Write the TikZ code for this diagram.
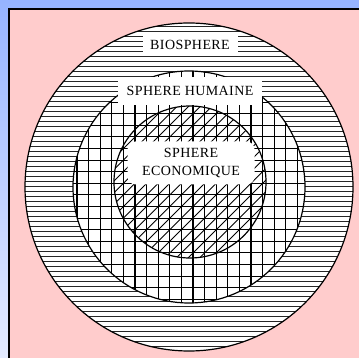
\documentclass[tikz,border=0pt]{standalone}
\usepackage{fontspec}
\setmainfont{Liberation Serif}
\newfontfamily\lblfont[LetterSpace=3]{Liberation Serif}
\usepackage{tikz}
\definecolor{rose}{RGB}{255,204,204}
\definecolor{bleuhaut}{RGB}{150,180,255}
\definecolor{bleubas}{RGB}{228,235,255}

\begin{document}
\begin{tikzpicture}[x=1pt,y=-1pt,hatch/.style={black!85,line width=0.9pt},grille/.style={black,line width=1.1pt},rond/.style={black,line width=1.2pt},etiq/.style={fill=white,inner sep=0pt,font=\lblfont\fontsize{14}{17}\selectfont}]
\useasboundingbox (0,0) rectangle (359,358);
\shade[top color=bleuhaut,bottom color=bleubas] (0,0) rectangle (359,358);
\fill[rose] (9,9) rectangle (359,358);
\draw[line width=2.5pt] (9,359) -- (9,9) -- (360,9);
% anneau exterieur : traits horizontaux
\begin{scope}[even odd rule]
\clip (189,187) circle (164pt) (189,187) circle (116pt);
\fill[white] (0,0) rectangle (359,358);
\foreach \y in {21,26,...,356} \draw[hatch] (20,\y) -- (360,\y);
\end{scope}
% sphere humaine : quadrillage
\begin{scope}
\clip (189,187) circle (116pt);
\fill[white] (0,0) rectangle (359,358);
\foreach \i in {-11,...,11} {
  \draw[grille] (181.4+11.6*\i,60) -- (181.4+11.6*\i,310);
  \draw[grille] (60,183.3+11.6*\i) -- (320,183.3+11.6*\i);
}
\end{scope}
% sphere economique : diagonales en plus
\begin{scope}
\clip (190,182) circle (76pt);
\foreach \k in {-10,...,10} \draw[grille,line width=0.9pt] (100,264.7+11.6*\k) -- (290,74.7+11.6*\k);
\end{scope}
\draw[rond] (189,187) circle (164pt);
\draw[rond] (189,187) circle (116pt);
\draw[rond] (190,182) circle (76pt);
% etiquettes
\node[etiq,minimum width=95pt,minimum height=20pt] (bio) at (190,45) {BIOSPHERE};
\node[etiq,minimum width=144pt,minimum height=28pt] (hum) at (190,91) {SPHERE HUMAINE};
\node[etiq,rounded corners=8pt,minimum width=127pt,minimum height=43pt,align=center] (eco) at (191,163) {SPHERE\\[1pt]ECONOMIQUE};
\end{tikzpicture}
\end{document}
